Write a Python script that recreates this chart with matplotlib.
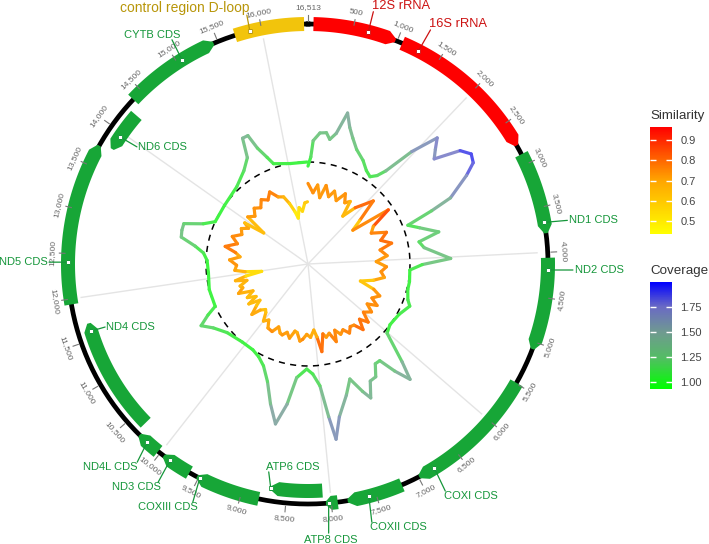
import numpy as np
import matplotlib
matplotlib.use('Agg')
import matplotlib.pyplot as plt
from matplotlib.collections import LineCollection
from matplotlib.colors import LinearSegmentedColormap, Normalize
from matplotlib.cm import ScalarMappable

plt.rcParams['font.family'] = ['Liberation Sans', 'DejaVu Sans']

GENOME_LEN = 16513

# genome features (bp)
FEAT_NAMES = ['control region D-loop', '12S rRNA', '16S rRNA', 'ND1 CDS', 'ND2 CDS',
              'COXI CDS', 'COXII CDS', 'ATP8 CDS', 'ATP6 CDS', 'COXIII CDS', 'ND3 CDS',
              'ND4L CDS', 'ND4 CDS', 'ND5 CDS', 'ND6 CDS', 'CYTB CDS']
FEAT_TYPE = ['misc', 'rRNA', 'rRNA', 'CDS', 'CDS', 'CDS', 'CDS', 'CDS', 'CDS', 'CDS',
             'CDS', 'CDS', 'CDS', 'CDS', 'CDS', 'CDS']
FEAT_START = [15700, 60, 1060, 2880, 4060, 5490, 7200, 7930, 8090, 8800, 9615,
              10030, 10350, 11940, 13780, 14370]
FEAT_END = [16470, 980, 2770, 3790, 5080, 6990, 7820, 8060, 8690, 9520, 9950,
            10300, 11690, 13740, 14260, 15450]
FEAT_STRAND = [0, 1, 1, 1, 1, 1, 1, 1, 1, 1, 1, 1, 1, 1, -1, 1]
FEAT_TRACK = [0, 0, 0, 0, 0, 0, 0, 0, 1, 0, 0, 0, 1, 0, 1, 0]

# where each label's leader line touches its feature (bp)
LABEL_ANCHOR = [15870, 668, 1257, 3670, 4194, 6800, 7583, 8030, 8690, 9486, 9866,
                10186, 11597, 12405, 13947, 15060]

# coverage track
COV_POS = [0, 69, 110, 239, 367, 454, 560, 674, 780, 899, 1055, 1284, 1468, 1624,
           1743, 1830, 1959, 2096, 2202, 2303, 2445, 2569, 2683, 2789, 2986, 3060,
           3156, 3303, 3495, 3610, 3761, 4027, 4142, 4284, 4578, 4789, 5032, 5160,
           5459, 5802, 6018, 6243, 6353, 6468, 6578, 6697, 6835, 6972, 7105, 7192,
           7339, 7509, 7725, 7839, 7903, 8000, 8142, 8289, 8518, 8646, 8784, 8945,
           9128, 9339, 9541, 9757, 10091, 10536, 10825, 11009, 11146, 11261, 11720,
           12156, 12477, 12660, 12798, 12935, 13073, 13211, 13348, 13509, 13991,
           14555, 14931, 15151, 15252, 15362, 15431, 15550, 15642, 16055, 16490]
COV_VAL = [0.96, 1.05, 1.21, 1.29, 1.30, 1.24, 1.31, 1.53, 1.40, 1.31, 1.22, 1.15,
           1.08, 1.05, 1.10, 1.19, 1.50, 1.77, 1.68, 1.61, 1.86, 1.93, 1.90, 1.78,
           1.54, 1.32, 1.05, 1.15, 1.32, 1.11, 1.15, 1.40, 1.12, 1.00, 1.01, 1.01,
           1.04, 1.08, 1.02, 1.00, 1.03, 1.33, 1.51, 1.35, 1.18, 1.18, 1.29, 1.30,
           1.45, 1.36, 1.20, 1.34, 1.53, 1.74, 1.51, 1.20, 1.08, 1.03, 1.12, 1.39,
           1.60, 1.42, 1.22, 1.09, 1.03, 1.00, 1.00, 1.04, 1.12, 1.21, 1.10, 1.00,
           1.00, 0.98, 0.99, 1.03, 1.12, 1.27, 1.28, 1.28, 1.10, 1.00, 1.00, 1.03,
           1.11, 1.20, 1.39, 1.39, 1.24, 1.12, 1.04, 1.00, 1.00]

# similarity track
SIM_POS = [0, 183, 321, 459, 596, 780, 917, 1101, 1284, 1422,
           1560, 1651, 1835, 2110, 2294, 2431, 2569, 2752, 2936, 3119,
           3303, 3486, 3624, 3853, 4037, 4220, 4404, 4587, 4770, 4954,
           5092, 5229, 5413, 5550, 5688, 5826, 6009, 6147, 6284, 6422,
           6560, 6697, 6835, 6972, 7110, 7248, 7339, 7477, 7614, 7706,
           7844, 7936, 8027, 8165, 8303, 8440, 8532, 8669, 8761, 8899,
           9036, 9174, 9266, 9403, 9541, 9725, 9862, 9999, 10137, 10229,
           10367, 10459, 10596, 10688, 10825, 10917, 11055, 11192, 11330, 11468,
           11559, 11697, 11789, 11880, 11972, 12064, 12156, 12339, 12523, 12660,
           12798, 12935, 13119, 13302, 13486, 13670, 13807, 13899, 13991, 14128,
           14312, 14495, 14678, 14862, 15045, 15229, 15412, 15596, 15734, 15871,
           15963, 16101, 16238, 16376, 16490]
SIM_VAL = [0.79, 0.70, 0.78, 0.66, 0.79, 0.69, 0.76, 0.68, 0.78, 0.70,
           0.74, 0.58, 0.72, 0.89, 0.66, 0.55, 0.95, 0.74, 0.69, 0.83,
           0.75, 0.845, 0.72, 0.78, 0.67, 0.77, 0.72, 0.76, 0.66, 0.54,
           0.69, 0.77, 0.71, 0.79, 0.70, 0.78, 0.72, 0.82, 0.74, 0.84,
           0.75, 0.74, 0.79, 0.73, 0.76, 0.70, 0.81, 0.71, 0.74, 0.70,
           0.87, 0.72, 0.65, 0.72, 0.69, 0.74, 0.76, 0.68, 0.67, 0.75,
           0.70, 0.74, 0.73, 0.68, 0.75, 0.74, 0.67, 0.71, 0.63, 0.61,
           0.65, 0.74, 0.65, 0.59, 0.70, 0.60, 0.68, 0.60, 0.74, 0.68,
           0.70, 0.62, 0.73, 0.62, 0.46, 0.62, 0.72, 0.70, 0.77, 0.67,
           0.72, 0.83, 0.72, 0.79, 0.71, 0.74, 0.68, 0.74, 0.53, 0.75,
           0.70, 0.76, 0.72, 0.78, 0.74, 0.80, 0.72, 0.70, 0.62, 0.53,
           0.46, 0.56, 0.52, 0.60, 0.61]

TICK_POS = list(range(500, 16001, 500)) + [GENOME_LEN]
SPOKE_POS = list(range(2000, 16001, 2000))

SIM_RANGE = (0.436, 0.964)
COV_RANGE = (0.93, 2.0)

# layout (pixels / data units where 1.0 = the dashed circle)
FIG_W, FIG_H = 709, 544
CX, CY = 308, 264
UNIT_PX = 102
RMAX = 2.75
TRACK_R = 240 / UNIT_PX
INNER_R = 227 / UNIT_PX
BAND_HW = 7 / UNIT_PX
SPOKE_R = 230 / UNIT_PX

FILL = {'misc': '#f2c40c', 'rRNA': '#fe0000', 'CDS': '#17a637'}
TEXT = {'misc': '#b8960a', 'rRNA': '#cc1111', 'CDS': '#15963a'}
TEXT_SIZE = {'misc': 10, 'rRNA': 9.3, 'CDS': 8}

# leader end offset from anchor (px, y down), extra text nudge (px), alignment
LABEL_OFF = [(-3, -16), (5, -20), (12, -21), (23, -2), (25, 0), (11, 23), (3, 26),
             (0, 30), (-2, -16), (-7, 24), (-12, 22), (-10, 20), (14, -4), (-19, 0),
             (17, 10), (-10, -20)]
LABEL_NUDGE = [(3, 0), (-1, 0), (-1, 0), (2, 0), (2, 0), (-1, 0), (-2, 0),
               (2, 2), (-3, 0), (5, 0), (3, 0), (0, 0), (1, 0), (-1, 0),
               (1, 0), (8, 0)]
LABEL_ALIGN = [('right', 'bottom'), ('left', 'bottom'), ('left', 'bottom'),
               ('left', 'center'), ('left', 'center'), ('left', 'top'),
               ('left', 'top'), ('center', 'top'), ('left', 'bottom'),
               ('right', 'top'), ('right', 'top'), ('right', 'top'),
               ('left', 'center'), ('right', 'center'), ('left', 'center'),
               ('right', 'bottom')]


def to_theta(bp):
    return 2 * np.pi * np.asarray(bp, dtype=float) / GENOME_LEN


def feature_outline(start, end, strand, rc, hw, head=90):
    head = min(head, 0.45 * (end - start))
    n = max(int((end - start) / 20), 4)
    tip = 0.25 * hw
    if strand == 1:
        body = np.linspace(start, end - head, n)
        th = list(body) + [end, end] + list(body[::-1])
        r = [rc + hw] * n + [rc + tip, rc - tip] + [rc - hw] * n
    elif strand == -1:
        body = np.linspace(start + head, end, n)
        th = [start, start] + list(body) + list(body[::-1])
        r = [rc - tip, rc + tip] + [rc + hw] * n + [rc - hw] * n
    else:
        body = np.linspace(start, end, n)
        th = list(body) + list(body[::-1])
        r = [rc + hw] * n + [rc - hw] * n
    return to_theta(th), r


def colored_line(ax, pos, val, cmap, norm, lw, soften=0.2):
    th = to_theta(pos)
    v = np.asarray(val, dtype=float)
    pts = np.column_stack([th, v])
    segs = np.stack([pts[:-1], pts[1:]], axis=1)
    cols = cmap(norm((v[:-1] + v[1:]) / 2))
    cols[:, :3] = cols[:, :3] * (1 - soften) + soften
    lc = LineCollection(segs, colors=cols, linewidths=lw, capstyle='round',
                        joinstyle='round', zorder=4)
    ax.add_collection(lc)


sim_cmap = LinearSegmentedColormap.from_list('sim', ['#ffff00', '#ffa500', '#ff0000'])
cov_cmap = LinearSegmentedColormap.from_list(
    'cov', [(0.0, '#00ff00'), (0.3, '#55bb66'), (0.53, '#6f9a90'),
            (0.77, '#6a6ac4'), (1.0, '#0000ff')])
sim_norm = Normalize(*SIM_RANGE)
cov_norm = Normalize(*COV_RANGE)

fig = plt.figure(figsize=(FIG_W / 100, FIG_H / 100), dpi=100)
half = RMAX * UNIT_PX
ax = fig.add_axes([(CX - half) / FIG_W, (FIG_H - CY - half) / FIG_H,
                   2 * half / FIG_W, 2 * half / FIG_H], projection='polar')
ax.set_theta_zero_location('N')
ax.set_theta_direction(-1)
ax.set_ylim(0, RMAX)
ax.set_axis_off()

full = np.linspace(0, 2 * np.pi, 721)

# spokes and reference circle
ax.vlines(to_theta(SPOKE_POS), 0, SPOKE_R, color='#e4e4e4', lw=1.0, zorder=1)
ax.plot(full, np.ones_like(full), color='black', lw=1.1, ls=(0, (4, 3.5)), zorder=3)

# data tracks
colored_line(ax, COV_POS, COV_VAL, cov_cmap, cov_norm, 2.3)
colored_line(ax, SIM_POS, SIM_VAL, sim_cmap, sim_norm, 2.3, soften=0.05)

# genome backbone
ax.plot(full, np.full_like(full, TRACK_R), color='black', lw=3.4, zorder=2)

# features
for i, name in enumerate(FEAT_NAMES):
    rc = INNER_R if FEAT_TRACK[i] else TRACK_R
    th, r = feature_outline(FEAT_START[i], FEAT_END[i], FEAT_STRAND[i], rc, BAND_HW)
    ax.fill(th, r, color=FILL[FEAT_TYPE[i]], lw=0, zorder=5)

# position ticks
for p in TICK_POS:
    t = to_theta(p)
    ax.plot([t, t], [2.385, 2.44], color='#777777', lw=0.8, zorder=6)
    deg = np.degrees(t) % 360
    rot = 180 - deg if 90 < deg < 270 else -deg
    ax.text(t, 2.51, f'{p:,}', rotation=rot, rotation_mode='anchor',
            ha='center', va='center', fontsize=6, color='#666666')

# feature labels with leaders
for i, name in enumerate(FEAT_NAMES):
    rc = INNER_R if FEAT_TRACK[i] else TRACK_R
    anchor = (to_theta(LABEL_ANCHOR[i]), rc)
    col = TEXT[FEAT_TYPE[i]]
    dx, dy = LABEL_OFF[i]
    nx, ny = LABEL_NUDGE[i]
    ax.annotate('', xy=anchor, xytext=(dx * 0.72, -dy * 0.72), textcoords='offset points',
                arrowprops=dict(arrowstyle='-', color=col, lw=0.9,
                                shrinkA=0, shrinkB=0), zorder=7)
    ax.plot(*anchor, marker='s', ms=2.6, mfc='white', mec=col, mew=0.6, zorder=8)
    ha, va = LABEL_ALIGN[i]
    ax.annotate(name, xy=anchor, xytext=((dx + nx) * 0.72, -(dy + ny) * 0.72),
                textcoords='offset points', ha=ha, va=va,
                fontsize=TEXT_SIZE[FEAT_TYPE[i]], color=col, zorder=8)


# colour legends
def add_bar(rect_px, cmap, norm, ticks, fmt, title):
    x0, y0, x1, y1 = rect_px
    cax = fig.add_axes([x0 / FIG_W, (FIG_H - y1) / FIG_H,
                        (x1 - x0) / FIG_W, (y1 - y0) / FIG_H])
    cb = fig.colorbar(ScalarMappable(norm=norm, cmap=cmap), cax=cax)
    cb.outline.set_visible(False)
    cb.set_ticks(ticks)
    cb.set_ticklabels([fmt.format(t) for t in ticks])
    cb.minorticks_off()
    cax.tick_params(axis='y', direction='in', length=4, width=1, color='white',
                    left=True, right=True, labelleft=False, labelright=True,
                    labelsize=8, labelcolor='#444444', pad=6)
    cax.set_title(title, loc='left', fontsize=9.6, color='#333333', pad=6)


add_bar((650, 127, 672, 234), sim_cmap, sim_norm, [0.5, 0.6, 0.7, 0.8, 0.9], '{:.1f}', 'Similarity')
add_bar((650, 282, 672, 389), cov_cmap, cov_norm, [1.0, 1.25, 1.5, 1.75], '{:.2f}', 'Coverage')

fig.savefig('out.png', dpi=100)
